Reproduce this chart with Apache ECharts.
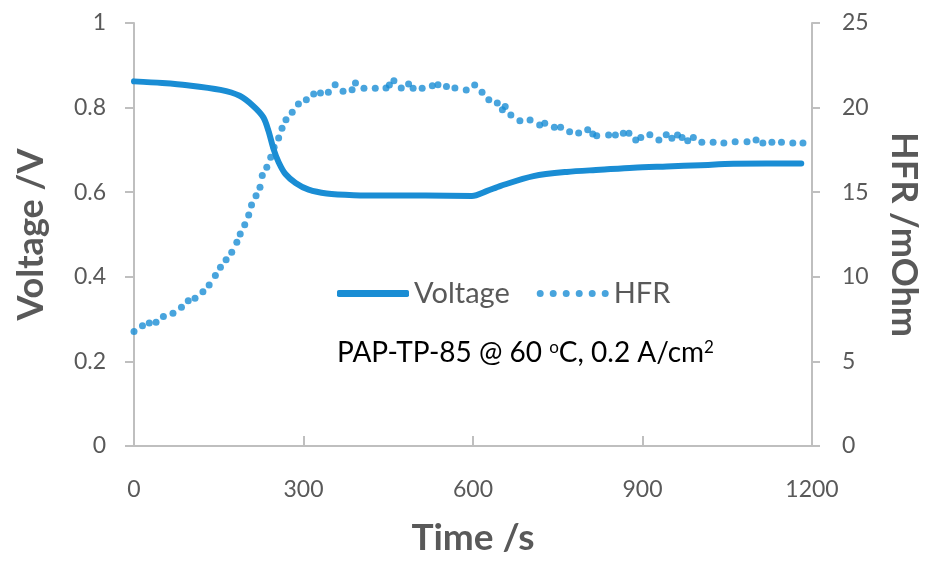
<!DOCTYPE html>
<html>
<head>
<meta charset="utf-8">
<script src="https://cdn.jsdelivr.net/npm/echarts@6/dist/echarts.min.js"></script>
<style>
  html, body { margin: 0; padding: 0; background: #fff; }
  #chart { width: 929px; height: 562px; }
</style>
</head>
<body>
<div id="chart"></div>
<script>
// voltage trace (s, V)
const voltTime = [0, 50, 94, 153, 187, 211, 229, 238, 247, 256, 268, 286, 309, 341, 389, 446, 516, 598, 625, 649, 707, 766, 825, 884, 943, 1003, 1061, 1119, 1181];
const voltValues = [0.862, 0.858, 0.853, 0.842, 0.828, 0.804, 0.777, 0.745, 0.702, 0.671, 0.643, 0.622, 0.606, 0.597, 0.593, 0.592, 0.592, 0.591, 0.603, 0.615, 0.638, 0.648, 0.653, 0.658, 0.661, 0.664, 0.667, 0.668, 0.668];

// HFR samples (s, mOhm)
const hfrTime = [0, 15, 27, 39, 52, 69, 84, 96, 108, 122, 133, 144, 153, 163, 173, 182, 188, 196, 203, 208, 216, 223, 227, 235, 242, 248, 256, 262, 269, 280, 291, 305, 318, 330, 344, 356, 370, 386, 392, 407, 427, 446, 452, 460, 473, 486, 494, 510, 528, 538, 553, 568, 588, 603, 616, 628, 643, 652, 657, 667, 683, 701, 718, 727, 744, 755, 771, 787, 803, 812, 819, 840, 852, 866, 876, 888, 897, 913, 929, 942, 952, 962, 970, 980, 990, 1005, 1025, 1044, 1064, 1085, 1101, 1113, 1129, 1146, 1166, 1184];
const hfrValues = [6.76, 7.11, 7.27, 7.31, 7.66, 7.84, 8.20, 8.59, 8.73, 9.12, 9.52, 10.07, 10.56, 11.01, 11.45, 12.04, 12.53, 13.08, 13.65, 14.24, 14.79, 15.29, 15.98, 16.47, 17.06, 17.65, 18.20, 18.78, 19.28, 19.72, 20.21, 20.47, 20.80, 20.86, 20.90, 21.35, 20.96, 21.06, 21.45, 21.14, 21.14, 21.16, 21.34, 21.59, 21.16, 21.39, 21.14, 21.14, 21.29, 21.35, 21.24, 21.16, 21.04, 21.34, 20.90, 20.47, 20.27, 19.88, 20.07, 19.56, 19.23, 19.27, 18.97, 19.07, 18.84, 18.84, 18.58, 18.50, 18.69, 18.44, 18.34, 18.38, 18.38, 18.48, 18.48, 18.09, 18.24, 18.40, 18.09, 18.40, 18.19, 18.38, 18.24, 18.04, 18.24, 17.95, 17.95, 17.91, 17.98, 17.98, 18.09, 17.91, 17.95, 17.95, 17.91, 17.91];

const timeTicks = [0, 300, 600, 900, 1200];
const voltTicks = [0, 0.2, 0.4, 0.6, 0.8, 1];
const hfrTicks = [0, 5, 10, 15, 20, 25];

const blue = '#1a8dd4';
const grey = '#595959';
const axisGrey = '#bfbfbf';
const font = 'Lato';

// six dots in a row for the HFR legend key
const dotIcon = 'path://' + [0, 1, 2, 3, 4, 5].map(function (i) {
  const cx = 3.5 + i * 13;
  return 'M' + (cx - 3.5) + ',3.5 a3.5,3.5 0 1,0 7,0 a3.5,3.5 0 1,0 -7,0 Z';
}).join(' ');

const chart = echarts.init(document.getElementById('chart'));
chart.setOption({
  animation: false,
  textStyle: { fontFamily: font },
  grid: { left: 134, right: 117, top: 23, bottom: 116, containLabel: false, outerBoundsMode: 'none' },
  legend: {
    left: 337,
    top: 279,
    padding: 0,
    itemWidth: 72,
    itemHeight: 7,
    itemGap: 27,
    textStyle: { fontSize: 29, color: grey, fontFamily: font },
    data: [
      { name: 'Voltage', icon: 'roundRect' },
      { name: 'HFR', icon: dotIcon }
    ]
  },
  xAxis: {
    type: 'value',
    min: timeTicks[0],
    max: timeTicks[timeTicks.length - 1],
    interval: 300,
    name: 'Time /s',
    nameLocation: 'middle',
    nameGap: 74,
    nameTextStyle: { fontSize: 37, fontWeight: 'bold', color: grey },
    axisLine: { lineStyle: { color: axisGrey, width: 2 } },
    axisTick: { inside: true, length: 10, lineStyle: { color: axisGrey, width: 2 } },
    axisLabel: { fontSize: 23, color: grey, margin: 32, formatter: function (v) { return String(v); } },
    splitLine: { show: false }
  },
  yAxis: [
    {
      type: 'value',
      min: voltTicks[0],
      max: voltTicks[voltTicks.length - 1],
      interval: 0.2,
      name: 'Voltage /V',
      nameLocation: 'middle',
      nameGap: 85,
      nameTextStyle: { fontSize: 36, fontWeight: 'bold', color: grey },
      axisLine: { show: true, lineStyle: { color: axisGrey, width: 2 } },
      axisTick: { show: true, length: 9, lineStyle: { color: axisGrey, width: 2 } },
      axisLabel: { fontSize: 23, color: grey, margin: 28 },
      splitLine: { show: false }
    },
    {
      type: 'value',
      position: 'right',
      min: hfrTicks[0],
      max: hfrTicks[hfrTicks.length - 1],
      interval: 5,
      name: 'HFR /mOhm',
      nameLocation: 'middle',
      nameRotate: -90,
      nameGap: 74,
      nameTextStyle: { fontSize: 36, fontWeight: 'bold', color: grey },
      axisLine: { show: true, lineStyle: { color: axisGrey, width: 2 } },
      axisTick: { show: true, length: 8, lineStyle: { color: axisGrey, width: 2 } },
      axisLabel: { fontSize: 23, color: grey, margin: 30 },
      splitLine: { show: false }
    }
  ],
  graphic: [
    {
      type: 'text',
      left: 337,
      top: 339,
      style: {
        text: 'PAP-TP-85 @ 60 {sup|o}C, 0.2 A/cm{sup|2}',
        fontFamily: font,
        fontSize: 28,
        fill: '#000',
        rich: {
          sup: { fontSize: 17, verticalAlign: 'top', fill: '#000', fontFamily: font }
        }
      }
    }
  ],
  series: [
    {
      name: 'Voltage',
      type: 'line',
      yAxisIndex: 0,
      data: voltTime.map(function (t, i) { return [t, voltValues[i]]; }),
      showSymbol: false,
      smooth: 0.3,
      itemStyle: { color: blue },
      lineStyle: { color: blue, width: 6, cap: 'round', join: 'round' }
    },
    {
      name: 'HFR',
      type: 'scatter',
      yAxisIndex: 1,
      data: hfrTime.map(function (t, i) { return [t, hfrValues[i]]; }),
      symbol: 'circle',
      symbolSize: 7,
      itemStyle: { color: blue }
    }
  ]
});
</script>
</body>
</html>
